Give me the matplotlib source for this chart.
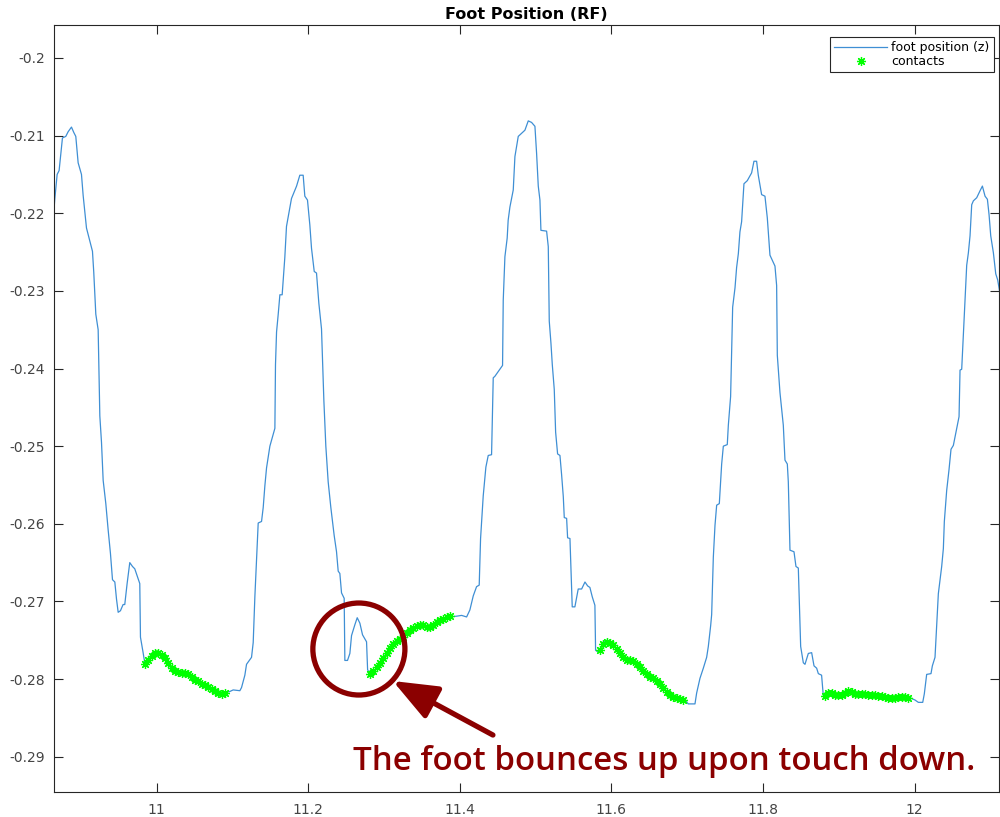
import matplotlib
matplotlib.use('Agg')
import matplotlib.pyplot as plt
from matplotlib.patches import Ellipse

plt.rcParams['axes.unicode_minus'] = False
plt.rcParams['font.family'] = ['DejaVu Sans']

# --- data ---
t = [10.8636, 10.8658, 10.8689, 10.8715, 10.8759, 10.8803, 10.8834, 10.8878, 10.8909, 10.8935,
     10.8966, 10.9010, 10.9032, 10.9076, 10.9155, 10.9172, 10.9199, 10.9230, 10.9252, 10.9274,
     10.9296, 10.9331, 10.9362, 10.9392, 10.9419, 10.9450, 10.9472, 10.9494, 10.9524, 10.9559,
     10.9581, 10.9612, 10.9647, 10.9683, 10.9713, 10.9744, 10.9779, 10.9788, 10.9823, 10.9846,
     10.9912, 11.0000, 11.0088, 11.0175, 11.0264, 11.0396, 11.0483, 11.0615, 11.0747, 11.0858,
     11.0923, 11.0967, 11.1011, 11.1099, 11.1121, 11.1165, 11.1187, 11.1253, 11.1275, 11.1297,
     11.1319, 11.1341, 11.1385, 11.1407, 11.1429, 11.1451, 11.1495, 11.1561, 11.1569, 11.1583,
     11.1605, 11.1627, 11.1657, 11.1692, 11.1714, 11.1780, 11.1847, 11.1890, 11.1934, 11.1956,
     11.1991, 11.2022, 11.2044, 11.2080, 11.2110, 11.2141, 11.2176, 11.2207, 11.2233, 11.2264,
     11.2299, 11.2343, 11.2374, 11.2396, 11.2418, 11.2440, 11.2475, 11.2484, 11.2519, 11.2550,
     11.2572, 11.2616, 11.2647, 11.2682, 11.2717, 11.2770, 11.2784, 11.2814, 11.2902, 11.2990,
     11.3078, 11.3166, 11.3254, 11.3342, 11.3430, 11.3518, 11.3606, 11.3694, 11.3782, 11.3869,
     11.3958, 11.4024, 11.4090, 11.4133, 11.4177, 11.4221, 11.4256, 11.4274, 11.4309, 11.4344,
     11.4375, 11.4419, 11.4441, 11.4463, 11.4564, 11.4573, 11.4595, 11.4625, 11.4638, 11.4661,
     11.4705, 11.4727, 11.4771, 11.4815, 11.4859, 11.4903, 11.4947, 11.4991, 11.5013, 11.5035,
     11.5057, 11.5070, 11.5145, 11.5167, 11.5180, 11.5202, 11.5220, 11.5246, 11.5264, 11.5290,
     11.5321, 11.5343, 11.5365, 11.5378, 11.5409, 11.5422, 11.5453, 11.5483, 11.5518, 11.5562,
     11.5607, 11.5651, 11.5686, 11.5716, 11.5747, 11.5782, 11.5791, 11.5826, 11.5849, 11.5892,
     11.5937, 11.6024, 11.6090, 11.6156, 11.6244, 11.6332, 11.6420, 11.6508, 11.6596, 11.6683,
     11.6772, 11.6860, 11.6970, 11.7013, 11.7102, 11.7124, 11.7168, 11.7212, 11.7256, 11.7278,
     11.7309, 11.7322, 11.7344, 11.7366, 11.7388, 11.7423, 11.7454, 11.7476, 11.7528, 11.7542,
     11.7572, 11.7599, 11.7630, 11.7651, 11.7674, 11.7695, 11.7717, 11.7748, 11.7792, 11.7849,
     11.7880, 11.7915, 11.7937, 11.7981, 11.8025, 11.8056, 11.8091, 11.8157, 11.8179, 11.8188,
     11.8223, 11.8267, 11.8289, 11.8320, 11.8333, 11.8355, 11.8408, 11.8434, 11.8465, 11.8496,
     11.8531, 11.8553, 11.8575, 11.8597, 11.8641, 11.8672, 11.8707, 11.8729, 11.8772, 11.8795,
     11.8817, 11.8883, 11.8971, 11.9058, 11.9147, 11.9235, 11.9322, 11.9410, 11.9499, 11.9586,
     11.9675, 11.9763, 11.9850, 11.9938, 12.0004, 12.0048, 12.0106, 12.0127, 12.0158, 12.0215,
     12.0233, 12.0268, 12.0290, 12.0312, 12.0334, 12.0356, 12.0378, 12.0391, 12.0422, 12.0453,
     12.0479, 12.0510, 12.0554, 12.0585, 12.0598, 12.0620, 12.0642, 12.0664, 12.0686, 12.0708,
     12.0730, 12.0752, 12.0774, 12.0818, 12.0862, 12.0893, 12.0928, 12.0959, 12.0981, 12.1003,
     12.1038, 12.1069, 12.1095, 12.1126]

z = [-0.2209, -0.2182, -0.2150, -0.2145, -0.2103, -0.2101, -0.2095, -0.2089, -0.2096, -0.2101,
     -0.2135, -0.2150, -0.2177, -0.2219, -0.2249, -0.2276, -0.2330, -0.2350, -0.2461, -0.2495,
     -0.2544, -0.2574, -0.2608, -0.2638, -0.2672, -0.2675, -0.2697, -0.2714, -0.2712, -0.2704,
     -0.2704, -0.2677, -0.2650, -0.2655, -0.2658, -0.2667, -0.2677, -0.2746, -0.2766, -0.2780,
     -0.2771, -0.2767, -0.2771, -0.2784, -0.2791, -0.2793, -0.2799, -0.2808, -0.2814, -0.2818,
     -0.2817, -0.2816, -0.2814, -0.2815, -0.2811, -0.2795, -0.2781, -0.2772, -0.2753, -0.2694,
     -0.2648, -0.2599, -0.2597, -0.2579, -0.2551, -0.2528, -0.2500, -0.2477, -0.2395, -0.2353,
     -0.2330, -0.2305, -0.2305, -0.2257, -0.2217, -0.2181, -0.2165, -0.2151, -0.2151, -0.2178,
     -0.2183, -0.2215, -0.2245, -0.2275, -0.2277, -0.2316, -0.2349, -0.2441, -0.2500, -0.2546,
     -0.2579, -0.2615, -0.2636, -0.2661, -0.2664, -0.2689, -0.2696, -0.2776, -0.2776, -0.2767,
     -0.2744, -0.2730, -0.2721, -0.2728, -0.2743, -0.2752, -0.2788, -0.2793, -0.2787, -0.2774,
     -0.2758, -0.2750, -0.2748, -0.2737, -0.2733, -0.2730, -0.2735, -0.2728, -0.2723, -0.2720,
     -0.2719, -0.2718, -0.2720, -0.2711, -0.2693, -0.2681, -0.2679, -0.2619, -0.2564, -0.2527,
     -0.2512, -0.2511, -0.2412, -0.2410, -0.2396, -0.2312, -0.2256, -0.2232, -0.2209, -0.2192,
     -0.2170, -0.2127, -0.2101, -0.2097, -0.2093, -0.2081, -0.2083, -0.2088, -0.2123, -0.2165,
     -0.2183, -0.2222, -0.2223, -0.2243, -0.2339, -0.2367, -0.2395, -0.2427, -0.2482, -0.2510,
     -0.2512, -0.2537, -0.2565, -0.2592, -0.2593, -0.2618, -0.2619, -0.2707, -0.2707, -0.2684,
     -0.2684, -0.2675, -0.2680, -0.2682, -0.2694, -0.2705, -0.2763, -0.2765, -0.2763, -0.2752,
     -0.2750, -0.2756, -0.2765, -0.2773, -0.2776, -0.2780, -0.2790, -0.2797, -0.2801, -0.2812,
     -0.2821, -0.2825, -0.2827, -0.2832, -0.2832, -0.2818, -0.2799, -0.2786, -0.2772, -0.2758,
     -0.2731, -0.2717, -0.2643, -0.2602, -0.2576, -0.2574, -0.2523, -0.2500, -0.2498, -0.2473,
     -0.2436, -0.2321, -0.2296, -0.2270, -0.2252, -0.2224, -0.2211, -0.2162, -0.2158, -0.2148,
     -0.2133, -0.2133, -0.2151, -0.2176, -0.2178, -0.2206, -0.2254, -0.2268, -0.2293, -0.2383,
     -0.2431, -0.2473, -0.2518, -0.2523, -0.2546, -0.2634, -0.2636, -0.2655, -0.2657, -0.2758,
     -0.2779, -0.2781, -0.2774, -0.2767, -0.2766, -0.2783, -0.2786, -0.2793, -0.2795, -0.2822,
     -0.2822, -0.2817, -0.2820, -0.2821, -0.2816, -0.2820, -0.2819, -0.2820, -0.2822, -0.2822,
     -0.2825, -0.2824, -0.2823, -0.2824, -0.2827, -0.2830, -0.2830, -0.2819, -0.2794, -0.2793,
     -0.2783, -0.2772, -0.2730, -0.2690, -0.2672, -0.2655, -0.2632, -0.2597, -0.2557, -0.2530,
     -0.2504, -0.2499, -0.2477, -0.2462, -0.2402, -0.2401, -0.2357, -0.2313, -0.2267, -0.2251,
     -0.2229, -0.2189, -0.2184, -0.2180, -0.2171, -0.2165, -0.2178, -0.2182, -0.2202, -0.2229,
     -0.2251, -0.2278, -0.2286, -0.2304]

# contact samples (green stars), four stance phases
t_contact = [
    10.9846, 10.9890, 10.9934, 10.9978, 11.0022, 11.0066, 11.0110, 11.0154, 11.0198, 11.0242,
    11.0286, 11.0330, 11.0374, 11.0418, 11.0462, 11.0506, 11.0550, 11.0594, 11.0638, 11.0682,
    11.0726, 11.0770, 11.0814, 11.0858, 11.0902,
    11.2814, 11.2858, 11.2902, 11.2946, 11.2990, 11.3034, 11.3078, 11.3122, 11.3166, 11.3210,
    11.3254, 11.3298, 11.3342, 11.3386, 11.3430, 11.3474, 11.3518, 11.3562, 11.3606, 11.3650,
    11.3694, 11.3738, 11.3782, 11.3826, 11.3869,
    11.5849, 11.5892, 11.5937, 11.5980, 11.6024, 11.6068, 11.6112, 11.6156, 11.6200, 11.6244,
    11.6288, 11.6332, 11.6376, 11.6420, 11.6464, 11.6508, 11.6552, 11.6596, 11.6640, 11.6683,
    11.6728, 11.6772, 11.6816, 11.6860, 11.6904, 11.6948,
    11.8817, 11.8861, 11.8905, 11.8949, 11.8993, 11.9037, 11.9081, 11.9125, 11.9169, 11.9213,
    11.9257, 11.9301, 11.9345, 11.9389, 11.9433, 11.9477, 11.9521, 11.9565, 11.9609, 11.9653,
    11.9697, 11.9741, 11.9785, 11.9829, 11.9873, 11.9917]

z_contact = [
    -0.2780, -0.2776, -0.2770, -0.2767, -0.2767, -0.2769, -0.2773, -0.2779, -0.2786, -0.2790,
    -0.2791, -0.2792, -0.2792, -0.2793, -0.2797, -0.2801, -0.2803, -0.2806, -0.2808, -0.2810,
    -0.2813, -0.2815, -0.2818, -0.2819, -0.2818,
    -0.2793, -0.2790, -0.2785, -0.2779, -0.2773, -0.2766, -0.2760, -0.2755, -0.2751, -0.2749,
    -0.2746, -0.2741, -0.2737, -0.2734, -0.2732, -0.2731, -0.2731, -0.2733, -0.2733, -0.2730,
    -0.2727, -0.2724, -0.2722, -0.2720, -0.2719,
    -0.2762, -0.2755, -0.2752, -0.2753, -0.2756, -0.2761, -0.2767, -0.2772, -0.2775, -0.2776,
    -0.2777, -0.2780, -0.2785, -0.2790, -0.2794, -0.2797, -0.2799, -0.2802, -0.2807, -0.2812,
    -0.2817, -0.2821, -0.2823, -0.2825, -0.2826, -0.2827,
    -0.2822, -0.2818, -0.2818, -0.2820, -0.2821, -0.2820, -0.2818, -0.2816, -0.2817, -0.2819,
    -0.2819, -0.2819, -0.2819, -0.2820, -0.2820, -0.2821, -0.2822, -0.2822, -0.2823, -0.2824,
    -0.2825, -0.2824, -0.2823, -0.2823, -0.2823, -0.2824]

x_ticks = [11, 11.2, 11.4, 11.6, 11.8, 12]
x_tick_labels = ['11', '11.2', '11.4', '11.6', '11.8', '12']
y_ticks = [-0.2, -0.21, -0.22, -0.23, -0.24, -0.25, -0.26, -0.27, -0.28, -0.29]
y_tick_labels = ['-0.2', '-0.21', '-0.22', '-0.23', '-0.24', '-0.25', '-0.26', '-0.27', '-0.28', '-0.29']

LINE_COLOR = '#3f8fd4'
MARK_RED = '#8b0000'
AXIS_GREY = '#262626'
LABEL_GREY = '#444444'

fig = plt.figure(figsize=(10, 8.17), dpi=100)
ax = fig.add_axes([0.0535, 0.0302, 0.9455, 0.9392])

ax.plot(t, z, color=LINE_COLOR, linewidth=0.9, label='foot position (z)', zorder=2)
ax.plot(t_contact, z_contact, linestyle='none', marker=(8, 2, 0), markersize=6.5,
        markeredgewidth=0.9, color='#00ff00', label='contacts', zorder=3)

ax.set_xlim(10.8641, 12.1112)
ax.set_ylim(-0.29459, -0.19575)
ax.set_xticks(x_ticks)
ax.set_xticklabels(x_tick_labels)
ax.set_yticks(y_ticks)
ax.set_yticklabels(y_tick_labels)
ax.tick_params(direction='in', length=6.5, width=0.8, colors=AXIS_GREY, labelcolor=LABEL_GREY,
               labelsize=10, top=True, right=True, labeltop=False, labelright=False,
               pad=6)
ax.tick_params(axis='x', pad=8)
for s in ax.spines.values():
    s.set_color(AXIS_GREY)
    s.set_linewidth(0.8)

ax.set_title('Foot Position (RF)', fontsize=11.5, fontweight='bold', pad=4)

leg = ax.legend(loc='upper right', bbox_to_anchor=(0.9947, 0.9844), fontsize=9,
                frameon=True, fancybox=False, edgecolor=AXIS_GREY, framealpha=1,
                borderpad=0.35, handlelength=4.2, handletextpad=0.35, labelspacing=0.05,
                borderaxespad=0)
leg.get_frame().set_linewidth(0.8)

# annotation: circle, arrow and remark
ax.add_patch(Ellipse((11.2669, -0.27613), width=0.1214, height=0.01185, fill=False,
                     edgecolor=MARK_RED, linewidth=3.8, zorder=4))
ax.annotate('', xy=(11.3117, -0.28025), xytext=(11.4437, -0.28721),
            arrowprops=dict(arrowstyle='-|>,head_length=0.4,head_width=0.16',
                            mutation_scale=68, color=MARK_RED, lw=3.8,
                            shrinkA=0, shrinkB=0), zorder=4)
ax.text(11.259, -0.29172, 'The foot bounces up upon touch down.', color=MARK_RED,
        fontsize=23.8, fontweight='semibold', family=['Open Sans', 'DejaVu Sans'],
        ha='left', va='baseline', zorder=5)

fig.savefig('out.png', dpi=100)
